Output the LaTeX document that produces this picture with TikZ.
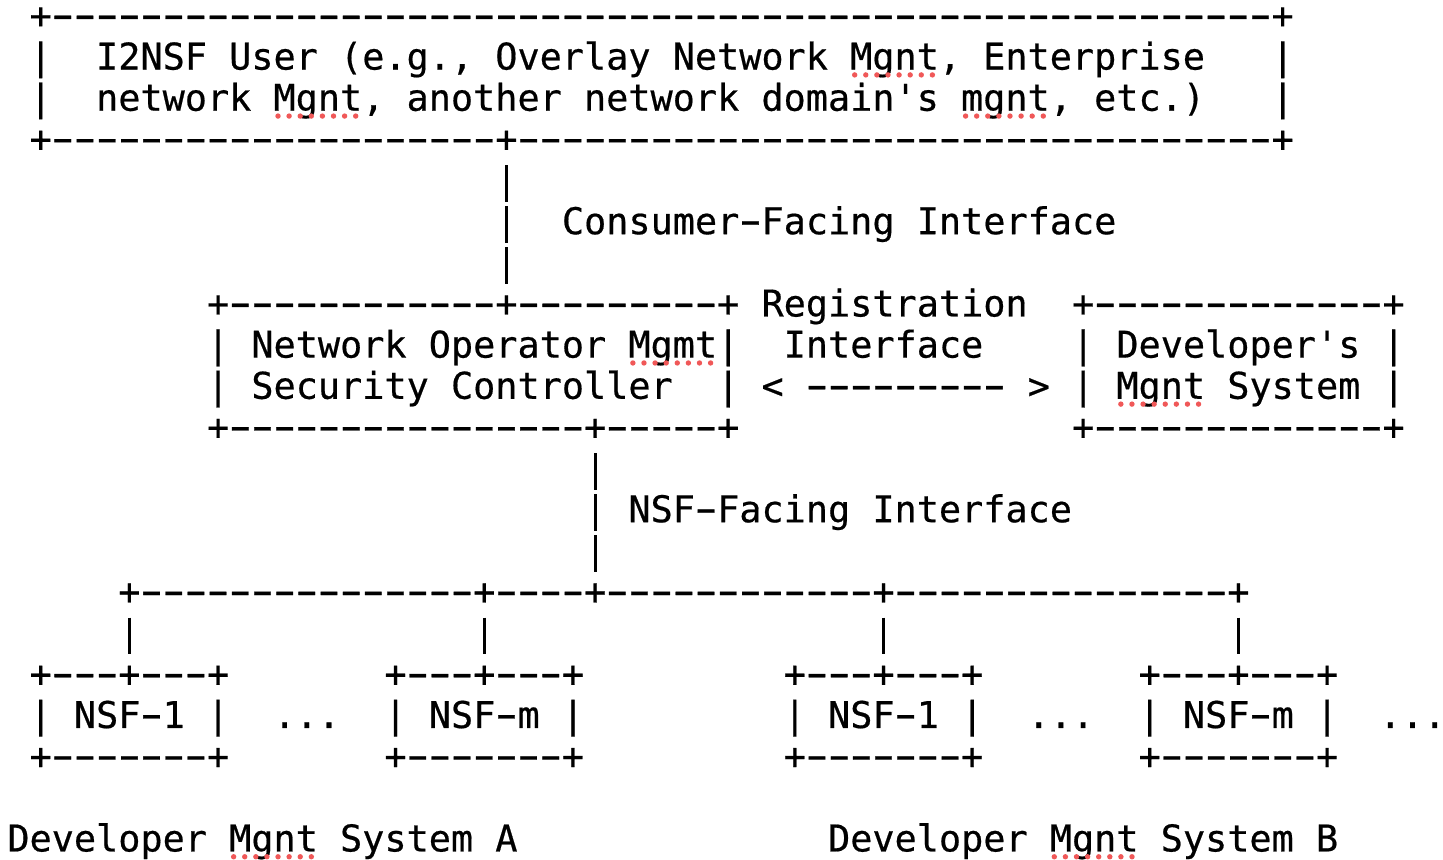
\documentclass[tikz,border=0pt]{standalone}
\usepackage{fontspec}
\setmonofont{DejaVu Sans Mono}[FakeBold=0.5]
\definecolor{spell}{RGB}{240,88,88}

% a long hyphen, one character cell wide
\newcommand\hy{\makebox[0.602em]{\scalebox{1.75}[1.1]{-}}}
\newcommand\dashes[1]{\foreach\k in {1,...,#1}{\hy}}

\tikzset{
  ascii/.style={font=\ttfamily\fontsize{18.42pt}{20.575pt}\selectfont,
    inner sep=0pt, outer sep=0pt, anchor=base west},
  bar/.style={line width=1.6pt, dash pattern=on 18.35pt off 2.225pt},
  squig/.style={spell, line width=2.7pt, line cap=round, dash pattern=on 0pt off 5.55pt}
}

\begin{document}
\begin{tikzpicture}
  \useasboundingbox (0,0) rectangle (721.5pt,-429.5pt);

  % one unit = one character cell
  \begin{scope}[shift={(3.7pt,-14.2pt)}, x=11.09pt, y=-20.575pt]

    \begin{scope}[every node/.style={ascii}]
      % I2NSF user
      \node[] (userTop) at (1,0) {+\dashes{55}+};
      \node[] (userL1) at (1,1) {|};
      \node[] (user1) at (4,1) {I2NSF User (e.g., Overlay Network Mgnt, Enterprise};
      \node[] (userR1) at (57,1) {|};
      \node[] (userL2) at (1,2) {|};
      \node[] (user2) at (4,2) {network Mgnt, another network domain's mgnt, etc.)};
      \node[] (userR2) at (57,2) {|};
      \node[] (userBotL) at (1,3) {+\dashes{20}};
      \node[] (userJ) at (22,3) {+};
      \node[] (userBotR) at (23,3) {\dashes{34}+};

      \node[] (cfi) at (25,5) {Consumer\hy Facing Interface};

      % security controller
      \node[] (socTopL) at (9,7) {+\dashes{12}};
      \node[] (socTopJ) at (22,7) {+};
      \node[] (socTopR) at (23,7) {\dashes{9}+};
      \node[] (socL1) at (9,8) {|};
      \node[] (soc1) at (11,8) {Network Operator Mgmt};
      \node[] (socR1) at (32,8) {|};
      \node[] (socL2) at (9,9) {|};
      \node[] (soc2) at (11,9) {Security Controller};
      \node[] (socR2) at (32,9) {|};
      \node[] (socBotL) at (9,10) {+\dashes{16}};
      \node[] (socBotJ) at (26,10) {+};
      \node[] (socBotR) at (27,10) {\dashes{5}+};

      % registration interface
      \node[] (reg1) at (34,7) {Registration};
      \node[] (reg2) at (35,8) {Interface};
      \node[] (regArrow) at (34,9) {< \dashes{9} >};

      % developer's mgnt system
      \node[] (devTop) at (48,7) {+\dashes{13}+};
      \node[] (devL1) at (48,8) {|};
      \node[] (dev1) at (50,8) {Developer's};
      \node[] (devR1) at (62,8) {|};
      \node[] (devL2) at (48,9) {|};
      \node[] (dev2) at (50,9) {Mgnt System};
      \node[] (devR2) at (62,9) {|};
      \node[] (devBot) at (48,10) {+\dashes{13}+};

      \node[] (nfi) at (28,12) {NSF\hy Facing Interface};

      % bus
      \node[] (busA1) at (5,14) {+};
      \node[] (bus1) at (6,14) {\dashes{15}};
      \node[] (busA2) at (21,14) {+};
      \node[] (bus2) at (22,14) {\dashes{4}};
      \node[] (busJ) at (26,14) {+};
      \node[] (bus3) at (27,14) {\dashes{12}};
      \node[] (busB1) at (39,14) {+};
      \node[] (bus4) at (40,14) {\dashes{15}};
      \node[] (busB2) at (55,14) {+};

      % NSFs
      \foreach \c/\n/\t in {1/A1/1, 17/Am/m, 35/B1/1, 51/Bm/m} {
        \node[] (nsf\n TopL) at (\c,16) {+\dashes{3}};
        \node[] (nsf\n J) at (\c+4,16) {+};
        \node[] (nsf\n TopR) at (\c+5,16) {\dashes{3}+};
        \node[] (nsf\n L) at (\c,17) {|};
        \node[] (nsf\n) at (\c+2,17) {NSF\hy\t};
        \node[] (nsf\n R) at (\c+8,17) {|};
        \node[] (nsf\n Bot) at (\c,18) {+\dashes{7}+};
      }
      \node[] (dotsA) at (12,17) {...};
      \node[] (dotsB) at (46,17) {...};
      \node[] (dotsC) at (61.85,17) {...};

      \node[] (sysA) at (0,20) {Developer Mgnt System A};
      \node[] (sysB) at (37,20) {Developer Mgnt System B};
    \end{scope}

    \begin{scope}
      \draw[bar] ([yshift=-6.575pt]userJ.base) -- ([yshift=16.225pt]socTopJ.base);
      \draw[bar] ([yshift=-6.575pt]socBotJ.base) -- ([yshift=16.225pt]busJ.base);
      \foreach \a/\b in {busA1/nsfA1J, busA2/nsfAmJ, busB1/nsfB1J, busB2/nsfBmJ}
        \draw[bar] ([yshift=-6.575pt]\a.base) -- ([yshift=16.225pt]\b.base);
    \end{scope}

    % spell-check marks
    \foreach \c/\r in {38/1, 12/2, 43/2, 28/8, 50/9, 10/20, 47/20}
      \draw[squig] (\c+0.2,\r+0.13) -- (\c+3.9,\r+0.13);
  \end{scope}
\end{tikzpicture}
\end{document}
